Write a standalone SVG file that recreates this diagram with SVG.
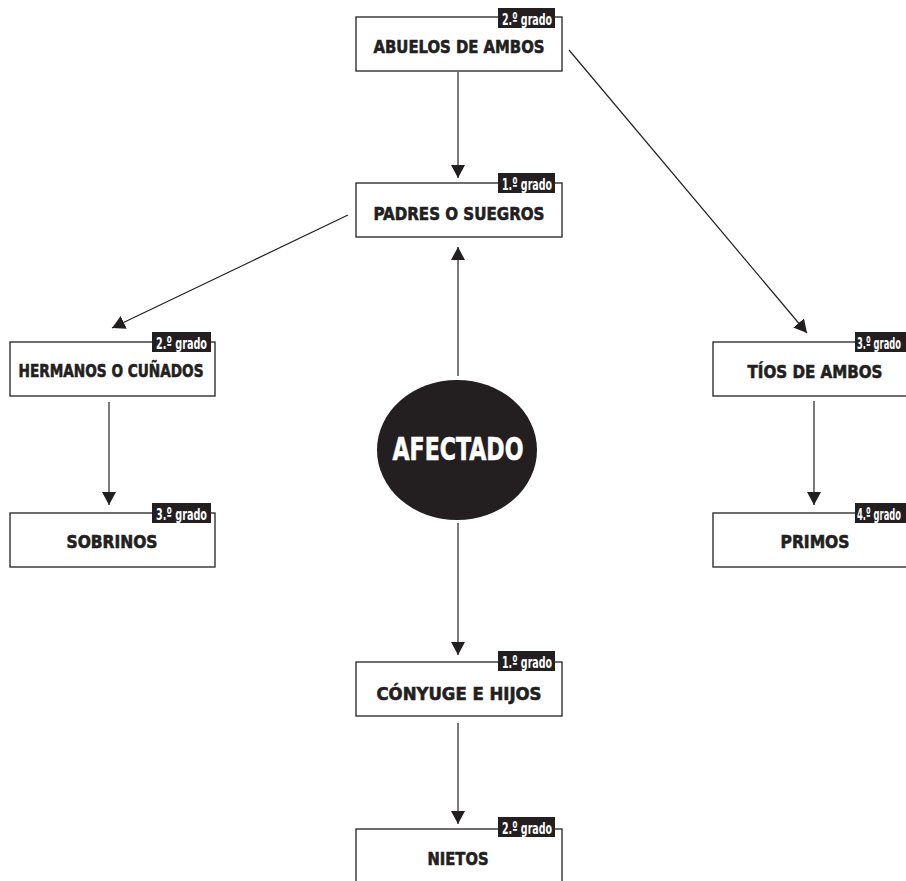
<svg xmlns="http://www.w3.org/2000/svg" width="906" height="881" viewBox="0 0 906 881">
<style>
.box{fill:#fff;stroke:#231f20;stroke-width:1.3}
.badge{fill:#231f20}
.lbl{font-family:"DejaVu Sans Condensed","Liberation Sans Narrow","Liberation Sans",sans-serif;font-weight:bold;font-size:18.5px;fill:#231f20;stroke:#231f20;stroke-width:0.6;text-anchor:middle}
.bt{font-family:"DejaVu Sans Condensed","Liberation Sans Narrow","Liberation Sans",sans-serif;font-weight:bold;font-size:16.5px;fill:#fff}
.big{font-family:"DejaVu Sans Condensed","Liberation Sans Narrow","Liberation Sans",sans-serif;font-weight:bold;font-size:32px;fill:#fff;stroke:#fff;stroke-width:0.6;text-anchor:middle}
.con{stroke:#231f20;stroke-width:1.2;fill:none;marker-end:url(#ah)}
</style>
<defs>
<marker id="ah" markerUnits="userSpaceOnUse" markerWidth="14" markerHeight="14" viewBox="0 0 14 14" refX="13" refY="7" orient="auto">
<path d="M0,0 L13,7 L0,14 Z" fill="#231f20"/>
</marker>
</defs>
<rect width="906" height="881" fill="#fff"/>
<g id="connectors">
<line class="con" x1="458" y1="72" x2="458" y2="178"/>
<line class="con" x1="569" y1="50" x2="807" y2="333"/>
<line class="con" x1="348" y1="215" x2="112" y2="328"/>
<line class="con" x1="458" y1="376" x2="458" y2="247"/>
<line class="con" x1="109" y1="402" x2="109" y2="505"/>
<line class="con" x1="814" y1="401" x2="814" y2="505"/>
<line class="con" x1="458" y1="523" x2="458" y2="655"/>
<line class="con" x1="458" y1="723" x2="458" y2="824"/>
</g>
<g id="abuelos">
<rect class="box" x="356" y="17" width="206" height="54"/>
<rect class="badge" x="498" y="8" width="57" height="20"/>
<text class="bt" x="502" y="25" textLength="50" lengthAdjust="spacingAndGlyphs">2.º grado</text>
<text class="lbl" x="459" y="53" textLength="171" lengthAdjust="spacingAndGlyphs">ABUELOS DE AMBOS</text>
</g>
<g id="padres">
<rect class="box" x="356" y="183" width="206" height="54"/>
<rect class="badge" x="498" y="173" width="57" height="20"/>
<text class="bt" x="502" y="190" textLength="50" lengthAdjust="spacingAndGlyphs">1.º grado</text>
<text class="lbl" x="459" y="220" textLength="171" lengthAdjust="spacingAndGlyphs">PADRES O SUEGROS</text>
</g>
<g id="hermanos">
<rect class="box" x="10" y="342" width="205" height="54"/>
<rect class="badge" x="152" y="332" width="59" height="20"/>
<text class="bt" x="156" y="349" textLength="51" lengthAdjust="spacingAndGlyphs">2.º grado</text>
<text class="lbl" x="111" y="377" textLength="185" lengthAdjust="spacingAndGlyphs">HERMANOS O CUÑADOS</text>
</g>
<g id="sobrinos">
<rect class="box" x="10" y="513" width="205" height="54"/>
<rect class="badge" x="152" y="503" width="59" height="20"/>
<text class="bt" x="156" y="520" textLength="51" lengthAdjust="spacingAndGlyphs">3.º grado</text>
<text class="lbl" x="112" y="548" textLength="91" lengthAdjust="spacingAndGlyphs">SOBRINOS</text>
</g>
<g id="tios">
<rect class="box" x="713" y="342" width="206" height="54"/>
<rect class="badge" x="855" y="332" width="59" height="20"/>
<text class="bt" x="857" y="349" textLength="44" lengthAdjust="spacingAndGlyphs">3.º grado</text>
<text class="lbl" x="815" y="378" textLength="135" lengthAdjust="spacingAndGlyphs">TÍOS DE AMBOS</text>
</g>
<g id="primos">
<rect class="box" x="713" y="513" width="206" height="54"/>
<rect class="badge" x="855" y="503" width="59" height="20"/>
<text class="bt" x="857" y="520" textLength="44" lengthAdjust="spacingAndGlyphs">4.º grado</text>
<text class="lbl" x="815" y="548" textLength="69" lengthAdjust="spacingAndGlyphs">PRIMOS</text>
</g>
<g id="afectado">
<ellipse cx="457" cy="450" rx="80" ry="70" fill="#231f20"/>
<text class="big" x="458" y="460" textLength="131" lengthAdjust="spacingAndGlyphs">AFECTADO</text>
</g>
<g id="conyuge">
<rect class="box" x="356" y="662" width="206" height="54"/>
<rect class="badge" x="498" y="651" width="57" height="20"/>
<text class="bt" x="502" y="668" textLength="50" lengthAdjust="spacingAndGlyphs">1.º grado</text>
<text class="lbl" x="459" y="700" textLength="165" lengthAdjust="spacingAndGlyphs">CÓNYUGE E HIJOS</text>
</g>
<g id="nietos">
<rect class="box" x="356" y="829" width="206" height="60"/>
<rect class="badge" x="498" y="817" width="57" height="20"/>
<text class="bt" x="502" y="834" textLength="50" lengthAdjust="spacingAndGlyphs">2.º grado</text>
<text class="lbl" x="458" y="865" textLength="61" lengthAdjust="spacingAndGlyphs">NIETOS</text>
</g>
</svg>
